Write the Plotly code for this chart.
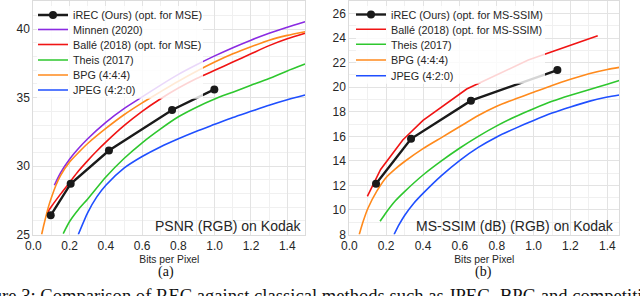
import plotly.graph_objects as go

# ---------------- data ----------------
# Panel (a): PSNR (RGB) on Kodak
a_irec_x = [0.096, 0.206, 0.417, 0.765, 0.998]
a_irec_y = [26.4, 28.71, 31.14, 34.1, 35.6]
a_minnen_x = [0.116, 0.15, 0.2, 0.25, 0.3, 0.4, 0.5, 0.6, 0.7, 0.8, 0.9, 1.0, 1.1, 1.2, 1.3, 1.4, 1.498]
a_minnen_y = [28.6, 29.5, 30.5, 31.3, 32.0, 33.2, 34.2, 35.05, 35.9, 36.7, 37.4, 38.05, 38.65, 39.2, 39.7, 40.15, 40.55]
a_balle_x = [0.074, 0.1, 0.15, 0.2, 0.25, 0.3, 0.35, 0.4, 0.5, 0.6, 0.7, 0.8, 0.9, 1.0, 1.1, 1.2, 1.3, 1.4, 1.498]
a_balle_y = [26.53, 27.05, 27.95, 28.8, 29.65, 30.4, 31.1, 31.75, 32.95, 34.0, 34.9, 35.7, 36.4, 37.0, 37.6, 38.2, 38.8, 39.3, 39.7]
a_theis_x = [0.165, 0.2, 0.25, 0.3, 0.4, 0.5, 0.6, 0.7, 0.8, 0.9, 1.0, 1.1, 1.2, 1.3, 1.4, 1.498]
a_theis_y = [25.07, 25.95, 26.85, 27.6, 29.2, 30.55, 31.7, 32.7, 33.6, 34.3, 34.9, 35.4, 35.9, 36.4, 36.95, 37.45]
a_bpg_x = [0.046, 0.06, 0.083, 0.1, 0.125, 0.15, 0.2, 0.25, 0.3, 0.4, 0.5, 0.6, 0.7, 0.8, 0.9, 1.0, 1.1, 1.2, 1.3, 1.4, 1.498]
a_bpg_y = [25.0, 25.8, 27.0, 27.7, 28.6, 29.3, 30.3, 31.0, 31.65, 32.75, 33.75, 34.62, 35.42, 36.2, 36.93, 37.6, 38.2, 38.72, 39.2, 39.55, 39.82]
a_jpeg_x = [0.248, 0.3, 0.35, 0.4, 0.5, 0.6, 0.7, 0.8, 0.9, 1.0, 1.1, 1.2, 1.3, 1.4, 1.498]
a_jpeg_y = [25.0, 26.6, 27.75, 28.6, 29.85, 30.7, 31.4, 32.0, 32.55, 33.05, 33.55, 34.0, 34.45, 34.85, 35.19]

# Panel (b): MS-SSIM (dB) (RGB) on Kodak
b_irec_x = [0.145, 0.335, 0.66, 1.129]
b_irec_y = [12.14, 15.8, 18.91, 21.4]
b_balle_x = [0.098, 0.17, 0.29, 0.4, 0.637, 0.971, 1.348]
b_balle_y = [11.11, 13.3, 15.7, 17.3, 19.86, 22.22, 24.19]
b_theis_x = [0.167, 0.2, 0.25, 0.3, 0.4, 0.5, 0.6, 0.7, 0.8, 0.9, 1.0, 1.1, 1.2, 1.3, 1.4, 1.465]
b_theis_y = [9.08, 9.8, 10.75, 11.5, 12.85, 14.0, 15.05, 16.0, 16.85, 17.6, 18.25, 18.85, 19.35, 19.8, 20.25, 20.55]
b_bpg_x = [0.054, 0.075, 0.1, 0.15, 0.2, 0.25, 0.3, 0.4, 0.5, 0.6, 0.7, 0.8, 0.9, 1.0, 1.1, 1.2, 1.3, 1.4, 1.465]
b_bpg_y = [8.0, 9.05, 10.1, 11.55, 12.65, 13.35, 13.95, 15.0, 15.9, 16.8, 17.7, 18.45, 19.05, 19.6, 20.15, 20.65, 21.1, 21.45, 21.62]
b_jpeg_x = [0.243, 0.27, 0.3, 0.35, 0.4, 0.5, 0.6, 0.7, 0.8, 0.9, 1.0, 1.1, 1.2, 1.3, 1.4, 1.465]
b_jpeg_y = [8.0, 8.8, 9.55, 10.55, 11.35, 12.8, 14.05, 15.1, 15.95, 16.65, 17.3, 17.9, 18.4, 18.85, 19.2, 19.37]

x_ticks = [0.0, 0.2, 0.4, 0.6, 0.8, 1.0, 1.2, 1.4]
a_y_ticks = [25, 30, 35, 40]
b_y_ticks = [8, 10, 12, 14, 16, 18, 20, 22, 24, 26]

# ---------------- styling ----------------
W, H = 640, 296
SANS = "Liberation Sans, Arial, sans-serif"
SERIF = "Liberation Serif, Times New Roman, serif"
C_BLACK = "#1a1a1a"
C_PURPLE = "#8a2be2"
C_RED = "#f01414"
C_GREEN = "#2ec72e"
C_ORANGE = "#ff8a1c"
C_BLUE = "#1f4fff"

def px_x(p):
    return p / W

def px_y(p):
    return 1 - p / H

fig = go.Figure()

a_rows = [15, 29.5, 44.5, 60, 75, 90]
b_rows = [14, 29.3, 44.3, 60, 75.7]
a_leg_x = 33
b_leg_x = 351

series_a = [
    ("Minnen (2020)", a_minnen_x, a_minnen_y, C_PURPLE, 1, "spline"),
    ("Ballé (2018) (opt. for MSE)", a_balle_x, a_balle_y, C_RED, 2, "spline"),
    ("Theis (2017)", a_theis_x, a_theis_y, C_GREEN, 3, "spline"),
    ("BPG (4:4:4)", a_bpg_x, a_bpg_y, C_ORANGE, 4, "spline"),
    ("JPEG (4:2:0)", a_jpeg_x, a_jpeg_y, C_BLUE, 5, "spline"),
]
series_b = [
    ("Ballé (2018) (opt. for MS-SSIM)", b_balle_x, b_balle_y, C_RED, 1, "linear"),
    ("Theis (2017)", b_theis_x, b_theis_y, C_GREEN, 2, "spline"),
    ("BPG (4:4:4)", b_bpg_x, b_bpg_y, C_ORANGE, 3, "spline"),
    ("JPEG (4:2:0)", b_jpeg_x, b_jpeg_y, C_BLUE, 4, "spline"),
]

legend_layouts = {}
leg_counter = [0]

def new_legend(xp, row):
    leg_counter[0] += 1
    name = "legend" if leg_counter[0] == 1 else f"legend{leg_counter[0]}"
    legend_layouts[name] = dict(
        x=px_x(xp), y=px_y(row), xref="paper", yref="paper",
        xanchor="left", yanchor="middle",
        bgcolor="rgba(0,0,0,0)", borderwidth=0,
        font=dict(family=SANS, size=10.8, color="#262626"),
    )
    return name

def line_style(col, shape):
    d = dict(color=col, width=1.6, shape=shape)
    if shape == "spline":
        d["smoothing"] = 0.6
    return d

for (nm, xs, ys, col, r, shp) in series_a:
    lg = new_legend(a_leg_x, a_rows[r])
    fig.add_trace(go.Scatter(x=xs, y=ys, mode="lines", name=nm,
                             line=line_style(col, shp),
                             xaxis="x", yaxis="y", legend=lg))
lg = new_legend(a_leg_x, a_rows[0])
fig.add_trace(go.Scatter(x=a_irec_x, y=a_irec_y, mode="lines+markers",
                         name="iREC (Ours) (opt. for MSE)",
                         line=dict(color=C_BLACK, width=2.4),
                         marker=dict(color=C_BLACK, size=8),
                         xaxis="x", yaxis="y", legend=lg))

for (nm, xs, ys, col, r, shp) in series_b:
    lg = new_legend(b_leg_x, b_rows[r])
    fig.add_trace(go.Scatter(x=xs, y=ys, mode="lines", name=nm,
                             line=line_style(col, shp),
                             xaxis="x2", yaxis="y2", legend=lg))
lg = new_legend(b_leg_x, b_rows[0])
fig.add_trace(go.Scatter(x=b_irec_x, y=b_irec_y, mode="lines+markers",
                         name="iREC (Ours) (opt. for MS-SSIM)",
                         line=dict(color=C_BLACK, width=2.4),
                         marker=dict(color=C_BLACK, size=8),
                         xaxis="x2", yaxis="y2", legend=lg))

shapes = [
    dict(type="rect", xref="paper", yref="paper",
         x0=px_x(37), x1=px_x(203), y0=px_y(98), y1=px_y(5),
         fillcolor="rgba(255,255,255,0.82)", line=dict(width=0), layer="above"),
    dict(type="rect", xref="paper", yref="paper",
         x0=px_x(356), x1=px_x(545), y0=px_y(83), y1=px_y(5),
         fillcolor="rgba(255,255,255,0.82)", line=dict(width=0), layer="above"),
]

GRID = "#e3e3e3"
MINOR = "#f0f0f0"
BORDER = "#dcdcdc"
tickfont = dict(family=SANS, size=12, color="#262626")

def xaxis(domain, rng, anchor):
    return dict(domain=domain, range=rng, anchor=anchor,
                tickvals=x_ticks, ticktext=[f"{v:.1f}" for v in x_ticks],
                showgrid=True, gridcolor=GRID, gridwidth=1,
                minor=dict(dtick=0.1, tick0=0, showgrid=True, gridcolor=MINOR, gridwidth=1),
                showline=True, linecolor=BORDER, linewidth=1, mirror=True,
                zeroline=False, ticks="", tickfont=tickfont,
                title=dict(text="Bits per Pixel", font=dict(family=SANS, size=10.3, color="#262626"),
                           standoff=3),
                automargin=False, fixedrange=True)

def yaxis(domain, rng, anchor, tv, minor_dt):
    return dict(domain=domain, range=rng, anchor=anchor,
                tickvals=tv, ticktext=[str(v) for v in tv],
                showgrid=True, gridcolor=GRID, gridwidth=1,
                minor=dict(dtick=minor_dt, tick0=0, showgrid=True, gridcolor=MINOR, gridwidth=1),
                showline=True, linecolor=BORDER, linewidth=1, mirror=True,
                zeroline=False, ticks="", tickfont=tickfont,
                automargin=False, fixedrange=True)

ydom = [1 - 234.3 / H, 1]

annotations = [
    dict(text="PSNR (RGB) on Kodak", xref="paper", yref="paper",
         x=px_x(303), y=px_y(226), xanchor="right", yanchor="middle",
         showarrow=False, font=dict(family=SANS, size=14, color="#262626")),
    dict(text="MS-SSIM (dB) (RGB) on Kodak", xref="paper", yref="paper",
         x=px_x(616), y=px_y(226), xanchor="right", yanchor="middle",
         showarrow=False, font=dict(family=SANS, size=14, color="#262626")),
    dict(text="(a)", xref="paper", yref="paper",
         x=px_x(165.7), y=px_y(272), xanchor="center", yanchor="middle",
         showarrow=False, font=dict(family=SERIF, size=14, color="#111111")),
    dict(text="(b)", xref="paper", yref="paper",
         x=px_x(483.3), y=px_y(272), xanchor="center", yanchor="middle",
         showarrow=False, font=dict(family=SERIF, size=14, color="#111111")),
    dict(text="Figure 3: Comparison of REC against classical methods such as JPEG, BPG and competitive ML-based methods.",
         xref="paper", yref="paper",
         x=px_x(-34), y=px_y(295), xanchor="left", yanchor="middle",
         showarrow=False, font=dict(family=SERIF, size=18.6, color="#111111")),
]

fig.update_layout(
    width=W, height=H,
    margin=dict(l=0, r=0, t=0, b=0, pad=0),
    paper_bgcolor="white", plot_bgcolor="white",
    xaxis=xaxis([33.3 / W, 305.4 / W], [0, 1.5], "y"),
    yaxis=yaxis(ydom, [25, 42.06], "x", a_y_ticks, 1),
    xaxis2=xaxis([349.3 / W, 619.3 / W], [0, 1.465], "y2"),
    yaxis2=yaxis(ydom, [8, 27.03], "x2", b_y_ticks, 1),
    shapes=shapes,
    annotations=annotations,
    showlegend=True,
    **legend_layouts,
)

fig.write_html(
    "out.html",
    config={"displayModeBar": False},
    post_script="document.body.style.margin='0';document.body.style.overflow='hidden';",
)
